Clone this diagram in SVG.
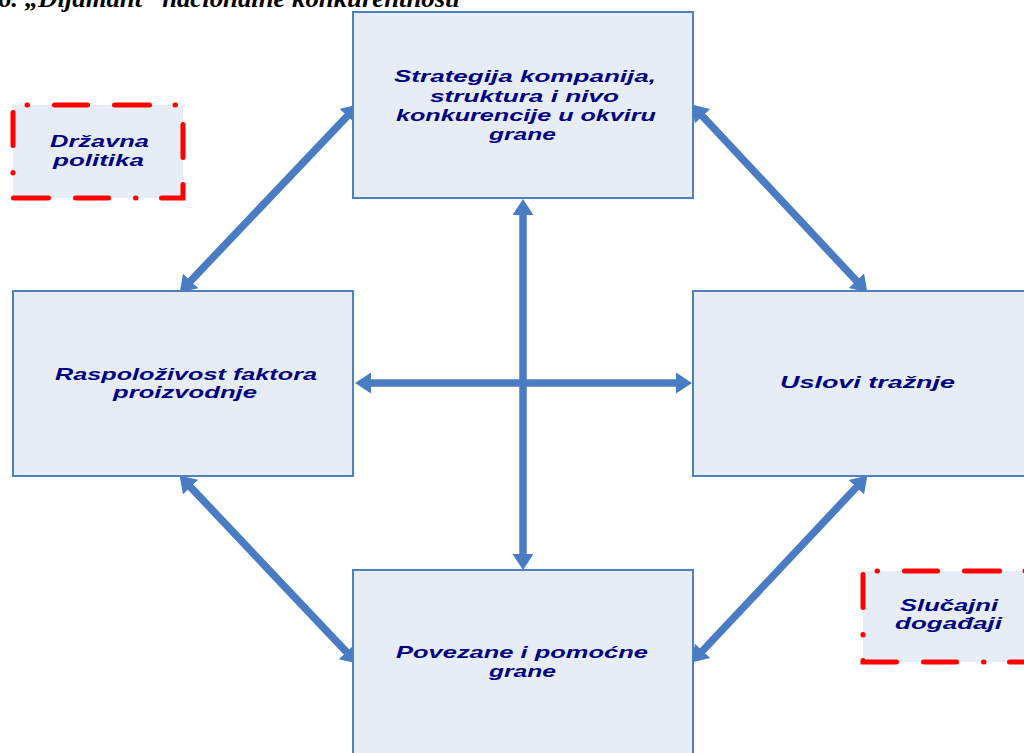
<svg xmlns="http://www.w3.org/2000/svg" width="1024" height="753" viewBox="0 0 1024 753">
  <defs>
    <marker id="head" markerUnits="userSpaceOnUse" markerWidth="16" markerHeight="21" viewBox="0 0 16 21" refX="1" refY="10.5" orient="auto-start-reverse">
      <path d="M0,0 L16,10.5 L0,21 z" fill="#4A7CC3"/>
    </marker>
  </defs>
  <style>
    .box { fill: #E7EDF7; stroke: #4F81BD; stroke-width: 2; }
    .ext { fill: #E7EDF7; stroke: #FF0000; stroke-width: 5; stroke-linecap: round; stroke-dasharray: 0.5 27 33 27 35 25.5; stroke-dashoffset: -14; }
    .lbl { font-family: "Liberation Sans", Arial, sans-serif; font-weight: bold; font-style: italic; font-size: 17px; fill: #000080; }
    .title { font-family: "Liberation Serif", "Times New Roman", serif; font-weight: bold; font-style: italic; font-size: 26px; fill: #000000; }
    .arrow { stroke: #4A7CC3; stroke-width: 7.5; fill: none; marker-start: url(#head); marker-end: url(#head); }
  </style>

  <rect width="1024" height="753" fill="#FFFFFF"/>

  <text class="title" x="-2" y="7" textLength="462" lengthAdjust="spacingAndGlyphs">6. „Dijamant“ nacionalne konkurentnosti</text>

  <g id="connectors">
    <line class="arrow" x1="190" y1="281.6" x2="348" y2="115.4"/>
    <line class="arrow" x1="701.9" y1="115.5" x2="857.1" y2="281.5"/>
    <line class="arrow" x1="189.9" y1="486.4" x2="347.1" y2="652.6"/>
    <line class="arrow" x1="857.1" y1="486.5" x2="701.9" y2="651.5"/>
    <line class="arrow" x1="523" y1="214" x2="523" y2="555"/>
    <line class="arrow" x1="370" y1="383" x2="677" y2="383"/>
  </g>

  <g id="strategija">
    <rect class="box" x="353" y="12" width="340" height="186"/>
    <text class="lbl" x="394" y="82" textLength="262" lengthAdjust="spacingAndGlyphs">Strategija kompanija,</text>
    <text class="lbl" x="430" y="102" textLength="189" lengthAdjust="spacingAndGlyphs">struktura i nivo</text>
    <text class="lbl" x="396" y="121" textLength="260" lengthAdjust="spacingAndGlyphs">konkurencije u okviru</text>
    <text class="lbl" x="489" y="140" textLength="67" lengthAdjust="spacingAndGlyphs">grane</text>
  </g>

  <g id="faktori">
    <rect class="box" x="13" y="291" width="340" height="185"/>
    <text class="lbl" x="55" y="380" textLength="262" lengthAdjust="spacingAndGlyphs">Raspoloživost faktora</text>
    <text class="lbl" x="113" y="398" textLength="144" lengthAdjust="spacingAndGlyphs">proizvodnje</text>
  </g>

  <g id="traznja">
    <rect class="box" x="693" y="291" width="345" height="185"/>
    <text class="lbl" x="780" y="388" textLength="175" lengthAdjust="spacingAndGlyphs">Uslovi tražnje</text>
  </g>

  <g id="grane">
    <rect class="box" x="353" y="570" width="340" height="200"/>
    <text class="lbl" x="396" y="658" textLength="252" lengthAdjust="spacingAndGlyphs">Povezane i pomoćne</text>
    <text class="lbl" x="489" y="677" textLength="67" lengthAdjust="spacingAndGlyphs">grane</text>
  </g>

  <g id="drzavna-politika">
    <rect class="ext" x="13" y="105" width="170" height="93"/>
    <text class="lbl" x="50" y="147" textLength="99" lengthAdjust="spacingAndGlyphs">Državna</text>
    <text class="lbl" x="53" y="166" textLength="91" lengthAdjust="spacingAndGlyphs">politika</text>
  </g>

  <g id="slucajni-dogadjaji">
    <rect class="ext" x="863" y="571" width="170" height="91"/>
    <text class="lbl" x="900" y="611" textLength="98" lengthAdjust="spacingAndGlyphs">Slučajni</text>
    <text class="lbl" x="895" y="629" textLength="107" lengthAdjust="spacingAndGlyphs">događaji</text>
  </g>
</svg>
